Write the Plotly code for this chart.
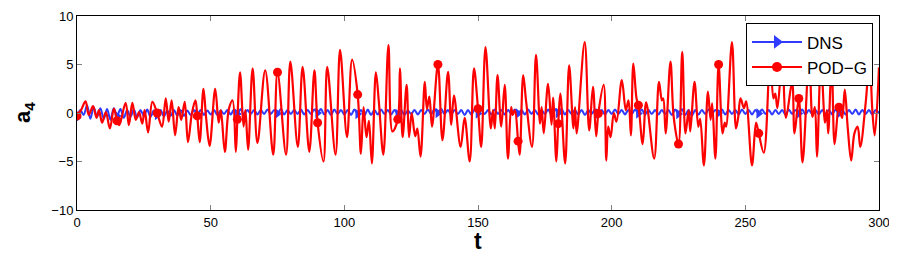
import plotly.graph_objects as go

# ---------------- data ----------------
red_t = [0, 1.5, 3.2, 4.4, 6.0, 7.3, 8.2, 9.4, 10.8, 12.3, 13.8, 15, 15.8, 18.2, 19.4, 20.7, 22.0, 23.2, 24.4, 25.3,
         26.6, 28.2, 30, 31.8, 33.2, 34.3, 35.4, 36.7, 38.0, 39.0, 40.3, 41.5, 43.0, 44.3, 45, 45.9, 47.3, 48.3, 49.6,
         51.7, 53.0, 53.8, 55.3, 56.8, 58.2, 59.4, 60, 61.0, 62.3, 63.0, 64.0, 65.7, 67.5, 70.4, 73.4, 75, 78.2, 79.8,
         82.6, 84.4, 86.9, 88.8, 90, 92.2, 93.6, 96.7, 98.4, 101.0, 102.9, 105, 106.2, 107.2, 108.3, 109.2, 110.3,
         111.8, 112.9, 114.6, 116.5, 118.0, 120, 120.8, 121.8, 123.3, 124.2, 125.2, 126.5, 127.3, 128.5, 130.1, 130.9,
         131.8, 132.8, 135, 136.7, 138.8, 140.0, 141.0, 143.5, 145.0, 146.9, 148.5, 150, 151.2, 152.8, 154.8, 155.6,
         156.3, 157.3, 158.7, 160.0, 161.2, 162.4, 163.0, 163.8, 165, 165.6, 166.9, 168.0, 170.2, 171.7, 173.2, 173.8,
         174.6, 176.2, 177.5, 178.1, 179.3, 180, 180.8, 182.6, 184.1, 185.7, 186.3, 186.9, 189.9, 191.6, 193.0, 194.2,
         195, 197.0, 198.0, 198.7, 199.6, 200.8, 201.8, 203.8, 205.3, 206.3, 207.2, 208.1, 209.3, 210, 211.6, 212.9,
         215.9, 217.7, 218.8, 219.3, 220.2, 222.0, 223.2, 225, 226.4, 227.6, 228.8, 229.4, 231.0, 232.4, 233.1, 234.5,
         236.0, 237.0, 237.6, 238.8, 240, 241.5, 242.3, 242.8, 245.0, 246.5, 247.3, 248.2, 249.5, 250.3, 252.5, 254.0,
         255, 256.9, 259.3, 260.5, 261.2, 262.0, 263.8, 265.2, 267.5, 268.4, 270, 271.4, 273.9, 275.1, 276.0, 276.8,
         278.3, 279.8, 280.5, 281.0, 282.3, 283.4, 285, 286.2, 287.2, 288.3, 289.6, 290.8, 292.0, 293.0, 295.0, 296.5,
         297.5, 298.4, 300]
red_v = [-0.3, 0.3, 1.2, -0.2, 0.7, -0.5, 0.3, -1.0, 0.1, -1.6, 0.45, -0.8, -1.25, 1.05, -1.25, 1.05, -0.7, 0.1, -1.1, 0.3,
         -2.0, 1.15, 0.0, -1.4, 1.5, -0.9, 1.3, -2.3, 0.6, -0.7, 1.15, -3.0, 0.0, 1.3, -0.3, -3.0, 2.5, -0.5, -3.4,
         2.5, -1.0, 0.3, -4.0, 0.4, 1.3, -4.0, -0.65, 4.2, -1.4, 0.3, -3.8, 4.6, -3.1, 4.4, -4.3, 4.2, -4.3, 5.3,
         -3.5, 4.75, -4.0, 4.4, -1.0, -5.0, 4.75, -4.3, 6.5, -2.5, 5.5, 1.9, -4.2, 0.6, -2.5, -0.8, -5.2,
         4.2, 1.2, -4.3, 7.0, -1.9, -0.65, 4.6, -2.5, 2.9, -2.5, 0.0, -2.4, -1.6, -4.5, 3.2, 0.4,
         1.7, -1.4, 5.0, -2.8, 4.25, -1.2, 1.8, -3.5, -0.5, -5.0, 4.6, 0.45, -3.5, 6.8, -1.6, 0.3,
         -1.6, 3.9, -1.4, 2.9, -4.7, 0.6, -0.2, 0.3, -2.9, -4.3, 3.9, 1.2, -3.5, 6.0, -1.1, 0.6,
         -2.1, 3.0, -1.2, 1.6, -5.0, -1.1, 2.0, -5.2, 4.9, -1.6, 0.6, -2.1, 7.3, -1.8, 2.7, -2.4,
         -0.05, 2.9, -4.9, -1.4, -2.5, 0.0, -0.9, 3.4, 0.3, 1.3, -2.3, 5.1, 1.5, 0.8, -3.2, 1.1,
         -4.7, 3.2, 1.3, 1.5, -2.1, 5.3, -0.4, -3.2, 6.3, -2.1, 0.3, -1.9, 3.2, -1.4, -0.6, -5.4,
         2.2, -0.7, 1.0, -4.7, 5.0, -2.1, -1.0, -1.4, 7.3, -1.6, -0.5, 1.5, 0.5, 1.2, -5.4, -1.0,
         -2.1, -4.1, 6.0, 1.5, 2.0, 0.5, 5.5, -0.5, 3.2, -2.1, 1.5, -5.1, 6.0, -0.4, 0.6, -4.5,
         5.5, -1.0, 0.3, -2.1, 5.0, -3.2, 0.6, -0.5, 2.4, -1.5, -4.9, -2.1, -1.4, -3.5, 1.0, 5.5,
         0.3, -2.3, 4.7]

blue_dt = 1.25
blue_v = [
    -0.5, 0.3, -0.2, 0.8, -0.6, 0.6, -0.4, 0.5, -0.6, 0.4, -0.7, 0.5,
    -0.3, 0.4, -0.5, 0.3, -0.4, 0.35, -0.45, 0.3, -0.3, 0.35, -0.4, 0.25,
    -0.2, 0.3, -0.35, 0.25, -0.3, 0.3, -0.25, 0.3, -0.3, 0.25, -0.2, 0.3,
    -0.15, 0.3, -0.2, 0.25, -0.15, 0.3, -0.2, 0.25, -0.1, 0.3, -0.15, 0.35,
    -0.1, 0.4, -0.15, 0.3, -0.1, 0.3, -0.15, 0.3, -0.1, 0.35, -0.1, 0.3,
    -0.05, 0.4, -0.15, 0.3, -0.1, 0.3, -0.1, 0.35, -0.15, 0.3, -0.1, 0.35,
    0.0, 0.4, -0.15, 0.3, -0.2, 0.35, -0.1, 0.3, -0.15, 0.3, -0.2, 0.35,
    -0.1, 0.3, -0.25, 0.35, -0.2, 0.3, -0.15, 0.35, -0.1, 0.3, -0.15, 0.3,
    -0.1, 0.3, -0.2, 0.25, -0.1, 0.3, -0.15, 0.3, -0.1, 0.35, -0.1, 0.4,
    0.0, 0.4, -0.1, 0.3, -0.15, 0.3, -0.1, 0.3, -0.2, 0.3, -0.15, 0.35,
    -0.05, 0.3, -0.1, 0.3, -0.15, 0.35, -0.1, 0.3, -0.15, 0.3, -0.1, 0.35,
    -0.05, 0.3, -0.15, 0.35, -0.1, 0.3, -0.15, 0.3, -0.1, 0.35, -0.15, 0.4,
    0.0, 0.4, -0.15, 0.3, -0.1, 0.3, -0.15, 0.3, -0.2, 0.3, -0.1, 0.35,
    -0.05, 0.3, -0.15, 0.3, -0.1, 0.35, -0.1, 0.3, -0.15, 0.3, -0.1, 0.35,
    -0.05, 0.35, -0.15, 0.3, -0.1, 0.3, -0.15, 0.3, -0.1, 0.3, -0.2, 0.35,
    -0.1, 0.4, -0.2, 0.3, -0.25, 0.3, -0.15, 0.3, -0.1, 0.35, -0.1, 0.3,
    0.0, 0.35, -0.15, 0.3, -0.1, 0.3, -0.15, 0.35, -0.1, 0.3, -0.15, 0.3,
    -0.05, 0.35, -0.1, 0.3, -0.15, 0.3, -0.1, 0.3, -0.15, 0.35, -0.1, 0.3,
    -0.05, 0.35, -0.15, 0.3, -0.1, 0.3, -0.15, 0.3, -0.1, 0.3, -0.15, 0.35,
    -0.05, 0.3, -0.15, 0.3, -0.1, 0.35, -0.15, 0.3, -0.1, 0.3, -0.15, 0.3,
    0.0]
blue_t = [i * blue_dt for i in range(len(blue_v))]

marker_t = [0, 15, 30, 45, 60, 75, 90, 105, 120, 135, 150, 165, 180, 195, 210, 225, 240, 255, 270, 285]

x_ticks = [0, 50, 100, 150, 200, 250, 300]
y_ticks = [-10, -5, 0, 5, 10]
series_names = ["DNS", "POD\u2212G"]
x_label = "t"
y_label = "a<sub>4</sub>"

# ---------------- styling ----------------
BLUE = "#2f3cff"
RED = "#ff0000"
FONT = "Liberation Sans, Arial, Helvetica, sans-serif"

red_lookup = dict(zip(red_t, red_v))
blue_lookup = dict(zip(blue_t, blue_v))

fig = go.Figure()

# DNS
fig.add_trace(go.Scatter(x=blue_t, y=blue_v, mode="lines", line=dict(color=BLUE, width=2, shape="spline"),
                         showlegend=False, hoverinfo="skip"))
fig.add_trace(go.Scatter(x=marker_t, y=[blue_lookup[t] for t in marker_t], mode="markers",
                         marker=dict(symbol="triangle-right", size=9, color=BLUE), showlegend=False))
# POD-G
fig.add_trace(go.Scatter(x=red_t, y=red_v, mode="lines", line=dict(color=RED, width=2.2, shape="spline"),
                         showlegend=False, hoverinfo="skip"))
fig.add_trace(go.Scatter(x=marker_t, y=[red_lookup[t] for t in marker_t], mode="markers",
                         marker=dict(symbol="circle", size=9, color=RED), showlegend=False))

# legend entries
fig.add_trace(go.Scatter(x=[None], y=[None], mode="lines+markers", name=series_names[0],
                         line=dict(color=BLUE, width=2), marker=dict(symbol="triangle-right", size=12, color=BLUE)))
fig.add_trace(go.Scatter(x=[None], y=[None], mode="lines+markers", name=series_names[1],
                         line=dict(color=RED, width=2), marker=dict(symbol="circle", size=10, color=RED)))

axis_common = dict(showline=True, linecolor="black", linewidth=1, mirror="ticks", ticks="inside",
                   ticklen=5, tickcolor="#808080", tickwidth=1, showgrid=False, zeroline=False,
                   automargin=False, tickfont=dict(family=FONT, size=13, color="black"))

# the page body has an 8px margin, so the figure is 8px smaller and its margins are offset
fig.update_layout(
    width=889, height=250,
    margin=dict(l=69, r=18, t=8, b=48, autoexpand=False),
    paper_bgcolor="white", plot_bgcolor="white",
    font=dict(family=FONT, color="black"),
    xaxis=dict(range=[0, 300], tickvals=x_ticks, ticktext=[str(v) for v in x_ticks], **axis_common),
    yaxis=dict(range=[-10, 10], tickvals=y_ticks,
               ticktext=[str(v).replace("-", "\u2212") for v in y_ticks], **axis_common),
    legend=dict(x=0.9925, y=0.962, xanchor="right", yanchor="top", bgcolor="white",
                bordercolor="black", borderwidth=1, font=dict(family=FONT, size=17, color="black"),
                tracegroupgap=0, itemwidth=50),
    showlegend=True,
    annotations=[
        dict(text="<b>" + x_label + "</b>", xref="paper", yref="paper", x=0.5, y=0, xanchor="center",
             yanchor="top", yshift=-16, showarrow=False, font=dict(family=FONT, size=23)),
        dict(text="<b>" + y_label + "</b>", xref="paper", yref="paper", x=0, y=0.5, xanchor="center",
             yanchor="middle", xshift=-53, textangle=-90, showarrow=False, font=dict(family=FONT, size=22)),
    ],
)

fig.write_html("out.html")
